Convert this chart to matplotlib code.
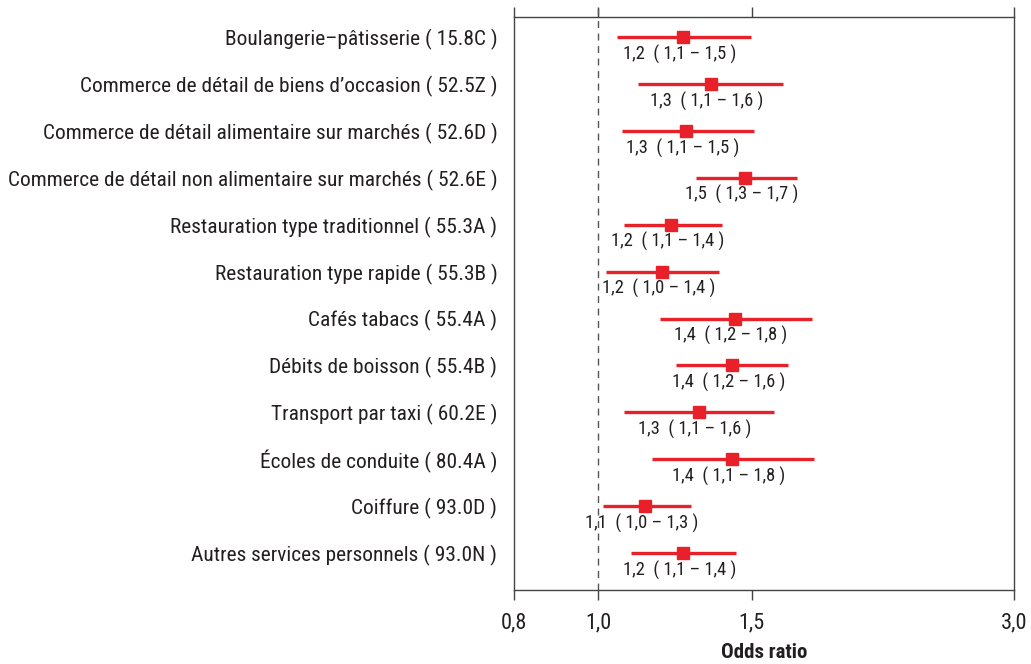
import matplotlib
matplotlib.use("Agg")
import matplotlib.pyplot as plt
import matplotlib.transforms as mtrans
from matplotlib import font_manager as fm
import numpy as np

names = {f.name for f in fm.fontManager.ttflist}
fam = ["Roboto Condensed", "Archivo Narrow", "Liberation Sans", "DejaVu Sans"]
plt.rcParams['font.family'] = [f for f in fam if f in names] or ["DejaVu Sans"]

categories = [
    "Boulangerie\u2013pâtisserie ( 15.8C )",
    "Commerce de détail de biens d\u2019occasion ( 52.5Z )",
    "Commerce de détail alimentaire sur marchés ( 52.6D )",
    "Commerce de détail non alimentaire sur marchés ( 52.6E )",
    "Restauration type traditionnel ( 55.3A )",
    "Restauration type rapide ( 55.3B )",
    "Cafés tabacs ( 55.4A )",
    "Débits de boisson ( 55.4B )",
    "Transport par taxi ( 60.2E )",
    "Écoles de conduite ( 80.4A )",
    "Coiffure ( 93.0D )",
    "Autres services personnels ( 93.0N )",
]
odds = [1.252, 1.345, 1.262, 1.475, 1.213, 1.184, 1.433, 1.425, 1.303, 1.425, 1.132, 1.252]
ci_low = [1.049, 1.111, 1.063, 1.293, 1.071, 1.019, 1.178, 1.229, 1.071, 1.151, 1.011, 1.091]
ci_high = [1.495, 1.627, 1.507, 1.689, 1.385, 1.377, 1.757, 1.649, 1.589, 1.766, 1.276, 1.437]
labels = [
    "1,2  ( 1,1 \u2013 1,5 )", "1,3  ( 1,1 \u2013 1,6 )", "1,3  ( 1,1 \u2013 1,5 )",
    "1,5  ( 1,3 \u2013 1,7 )", "1,2  ( 1,1 \u2013 1,4 )", "1,2  ( 1,0 \u2013 1,4 )",
    "1,4  ( 1,2 \u2013 1,8 )", "1,4  ( 1,2 \u2013 1,6 )", "1,3  ( 1,1 \u2013 1,6 )",
    "1,4  ( 1,1 \u2013 1,8 )", "1,1  ( 1,0 \u2013 1,3 )", "1,2  ( 1,1 \u2013 1,4 )",
]
xticks = [0.8, 1.0, 1.5, 3.0]
xticklabels = ["0,8", "1,0", "1,5", "3,0"]

red = "#E8202A"
txt = "#231F20"

fig = plt.figure(figsize=(10.31, 6.64), dpi=100)
ax = fig.add_axes([514/1031, 1-590/664, 500/1031, 573/664])
ax.set_xscale("log")
ax.set_xlim(0.8, 3.0)
ax.set_ylim(11.79, -0.43)

y = np.arange(len(categories))
ax.hlines(y, ci_low, ci_high, color=red, lw=2.4, zorder=3)
ax.plot(odds, y, "s", color=red, ms=9, zorder=4)

for yi, o, lab in zip(y, odds, labels):
    off = mtrans.offset_copy(ax.transData, fig=fig, x=-4, y=-17, units="dots")
    ax.text(o, yi, lab, transform=off, ha="center", va="center", fontsize=13.3, color=txt)

ax.axvline(1.0, color="#555555", lw=1, ls=(0, (5, 4)), ymin=0, ymax=1.017, clip_on=False, zorder=2)

ax.set_yticks(y)
ax.set_yticklabels(categories)
ax.tick_params(axis="y", length=0, pad=12, labelsize=15.4, labelcolor=txt)
ax.set_xticks(xticks)
ax.set_xticklabels(xticklabels)
ax.xaxis.set_minor_locator(matplotlib.ticker.NullLocator())
ax.xaxis.set_minor_formatter(matplotlib.ticker.NullFormatter())
ax.tick_params(axis="x", which="both", direction="out", length=7, width=1, color="#444444",
               top=True, pad=9, labelsize=16, labelcolor=txt)
ax.set_xlabel("Odds ratio", fontsize=15, fontweight="bold", color=txt, labelpad=7)
for s in ax.spines.values():
    s.set_color("#444444")
    s.set_linewidth(1)

fig.savefig("out.png", dpi=100)
